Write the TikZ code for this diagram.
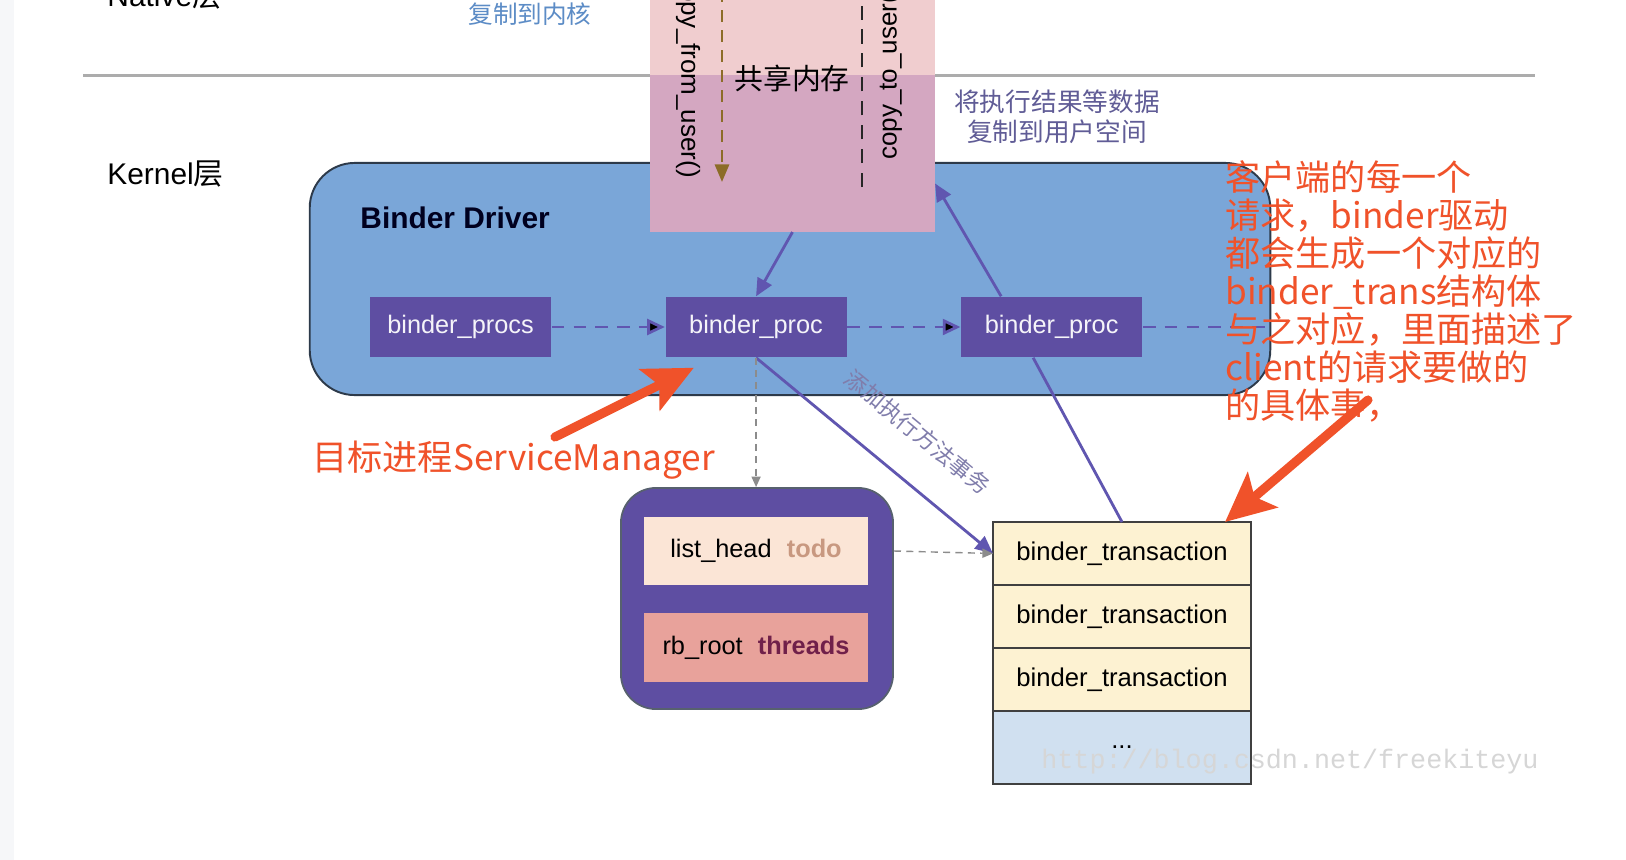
\documentclass[tikz,border=0pt]{standalone}
\usepackage{fontspec}
\setmainfont{Liberation Sans}
\newfontfamily\cjk{Noto Sans CJK SC}
\newfontfamily\wmfont{Liberation Mono}
\usepackage{xcolor}
\usetikzlibrary{positioning,arrows.meta}

\definecolor{driverblue}{RGB}{122,166,216}
\definecolor{driverline}{RGB}{45,58,74}
\definecolor{procpurple}{RGB}{94,78,162}
\definecolor{flowpurple}{RGB}{96,86,176}
\definecolor{shmpink}{RGB}{240,205,207}
\definecolor{shmmauve}{RGB}{212,167,193}
\definecolor{todopeach}{RGB}{251,229,214}
\definecolor{todotan}{RGB}{200,152,128}
\definecolor{rbsalmon}{RGB}{232,162,155}
\definecolor{threadsred}{RGB}{112,32,74}
\definecolor{transcream}{RGB}{253,242,210}
\definecolor{transblue}{RGB}{208,224,240}
\definecolor{annored}{RGB}{240,82,42}
\definecolor{sepgray}{RGB}{172,172,172}
\definecolor{topblue}{RGB}{92,140,198}
\definecolor{notegray}{RGB}{96,92,150}
\definecolor{wmgray}{RGB}{214,214,214}
\definecolor{stripgray}{RGB}{246,247,249}
\definecolor{copybrown}{RGB}{140,108,40}

\tikzset{
  proc/.style={fill=procpurple, text=white!94!procpurple, minimum width=1.81cm,
    minimum height=0.6cm, inner sep=0pt, font=\fontsize{7.2}{8}\selectfont},
  trans/.style={draw=black!75, line width=0.4pt, fill=transcream, minimum width=2.58cm,
    minimum height=0.63cm, inner sep=0pt, outer sep=0pt, font=\fontsize{7.3}{8}\selectfont},
  field/.style={minimum width=2.24cm, minimum height=0.68cm, inner sep=0pt,
    font=\fontsize{7.2}{8}\selectfont},
  flow/.style={draw=flowpurple, line width=0.8pt, -{Triangle[length=5pt,width=4.5pt]}},
  procdash/.style={flow, dash pattern=on 3.6pt off 2.6pt},
  graydash/.style={draw=black!45, line width=0.4pt, dash pattern=on 2pt off 1.5pt,
    -{Triangle[length=3pt,width=2.6pt]}},
  redarrow/.style={draw=annored, line width=2.6pt, line cap=round,
    -{Stealth[length=14pt,width=13pt,inset=3pt]}},
  annot/.style={text=annored, font=\cjk\fontsize{10}{10.8}\selectfont},
}

\begin{document}
\begin{tikzpicture}[x=0.01cm, y=-0.01cm]
\useasboundingbox (0,0) rectangle (1626,860);
\fill[white] (0,0) rectangle (1626,860);
\fill[stripgray] (0,0) rectangle (14,860);

% layers
\node[anchor=base west, font=\fontsize{8.5}{10}\selectfont] (native) at (95,6) {Native{\cjk 层}};
\node[anchor=base west, font=\fontsize{8.5}{10}\selectfont] (kernel) at (95,184) {Kernel{\cjk 层}};
\draw[sepgray, line width=0.85pt] (83,75) -- (1535,75);
\node[anchor=base, text=topblue, font=\cjk\fontsize{7}{8}\selectfont] (tokernel) at (530,23) {复制到内核};

% binder driver
\node[draw=driverline, line width=0.55pt, fill=driverblue, rounded corners=0.45cm,
  minimum width=9.6cm, minimum height=2.32cm] (driver) at (790,279) {};
\node[anchor=west, font=\bfseries\fontsize{8.5}{10}\selectfont, text=black!88!blue] (drvtitle) at (348,218) {Binder Driver};

% shared memory
\node[fill=shmpink, minimum width=2.85cm, minimum height=0.85cm, inner sep=0pt] (shmtop) at (792.5,32.5) {};
\node[fill=shmmauve, minimum width=2.85cm, minimum height=1.57cm, inner sep=0pt, outer sep=0pt] (shm) at (792.5,153.5) {};
\node[font=\cjk\fontsize{8.2}{9}\selectfont] (shmlabel) at (792,78) {共享内存};
\node[rotate=-90, font=\fontsize{7.4}{8}\selectfont] (cfu) at (688,76) {copy\_from\_user()};
\node[rotate=90, font=\fontsize{7.4}{8}\selectfont] (ctu) at (890,73) {copy\_to\_user()};
\coordinate (cfu top) at (722,-10);
\coordinate (cfu end) at (722,182);
\draw[copybrown, line width=0.8pt, dash pattern=on 3.4pt off 2.3pt,
  -{Triangle[length=5pt,width=4pt]}] (cfu top) -- (cfu end);
\coordinate (ctu top) at (862,-10);
\coordinate (ctu end) at (862,187);
\draw[black!85, line width=0.8pt, dash pattern=on 4pt off 2.8pt] (ctu end) -- (ctu top);
\node[align=center, text=notegray, font=\cjk\fontsize{7.3}{8.5}\selectfont] (touser) at (1057,117) {将执行结果等数据\\复制到用户空间};

% procs
\node[proc] (procs) at (460.5,327) {binder\_procs};
\node[proc, right=1.13cm of procs] (proc) {binder\_proc};
\node[proc, right=1.13cm of proc] (proc2) {binder\_proc};
\draw[procdash] (procs) edge (proc) (proc) edge (proc2);
\draw[flowpurple, line width=0.8pt, dash pattern=on 3.6pt off 2.6pt] (proc2) -- (driver.east |- proc2);
\draw[flow] (shm.south) -- (proc.north);
\draw[flow] ([xshift=-0.505cm]proc2.north) -- ([yshift=-0.3cm]shm.east);

% todo box
\node[draw=driverline!80, line width=0.5pt, fill=procpurple, rounded corners=0.35cm,
  minimum width=2.72cm, minimum height=2.21cm] (tbox) at (757,598.5) {};
\node[field, fill=todopeach] (todo) at (756,551) {list\_head\hspace{0.6em}\textcolor{todotan}{\bfseries todo}};
\node[field, fill=rbsalmon] (threads) at (756,647.5) {rb\_root\hspace{0.6em}\textcolor{threadsred}{\bfseries threads}};

% transactions
\node[trans] (trans1) at (1122,553.5) {binder\_transaction};
\node[trans, below=0cm of trans1] (trans2) {binder\_transaction};
\node[trans, below=0cm of trans2] (trans3) {binder\_transaction};
\node[trans, fill=transblue, minimum height=0.73cm, below=0cm of trans3] (transmore) {...};
\node[text=wmgray, font=\wmfont\fontsize{7.6}{8}\selectfont] (wm) at (1290,762) {http://blog.csdn.net/freekiteyu};

\draw[flow] (proc.south) -- node[sloped, above=0.22cm, pos=0.56, text=notegray!80,
  font=\cjk\fontsize{6.4}{7}\selectfont] (addtx) {添加执行方法事务} (trans1.west);
\draw[graydash] (proc.south) -- (proc.south |- tbox.north);
\draw[graydash] (tbox.east |- todo) -- (trans1.west);
\draw[flowpurple, line width=0.8pt] ([xshift=-0.185cm]proc2.south) -- (trans1.north);

% annotations
\node[annot, anchor=base west] (target) at (300,470) {目标进程ServiceManager};
\node[annot, anchor=base west, align=left] (note) at (1213,418) {客户端的每一个\\请求，binder驱动\\都会生成一个对应的\\binder\_trans结构体\\与之对应，里面描述了\\client的请求要做的\\的具体事，};
\coordinate (target tail) at (555,437);
\draw[redarrow] (target tail) -- ([xshift=0.29cm, yshift=-0.1cm]proc.south west);
\coordinate (note tail) at (1368,400);
\draw[redarrow] (note tail) -- ([xshift=-0.26cm]trans1.north east);
\end{tikzpicture}
\end{document}
